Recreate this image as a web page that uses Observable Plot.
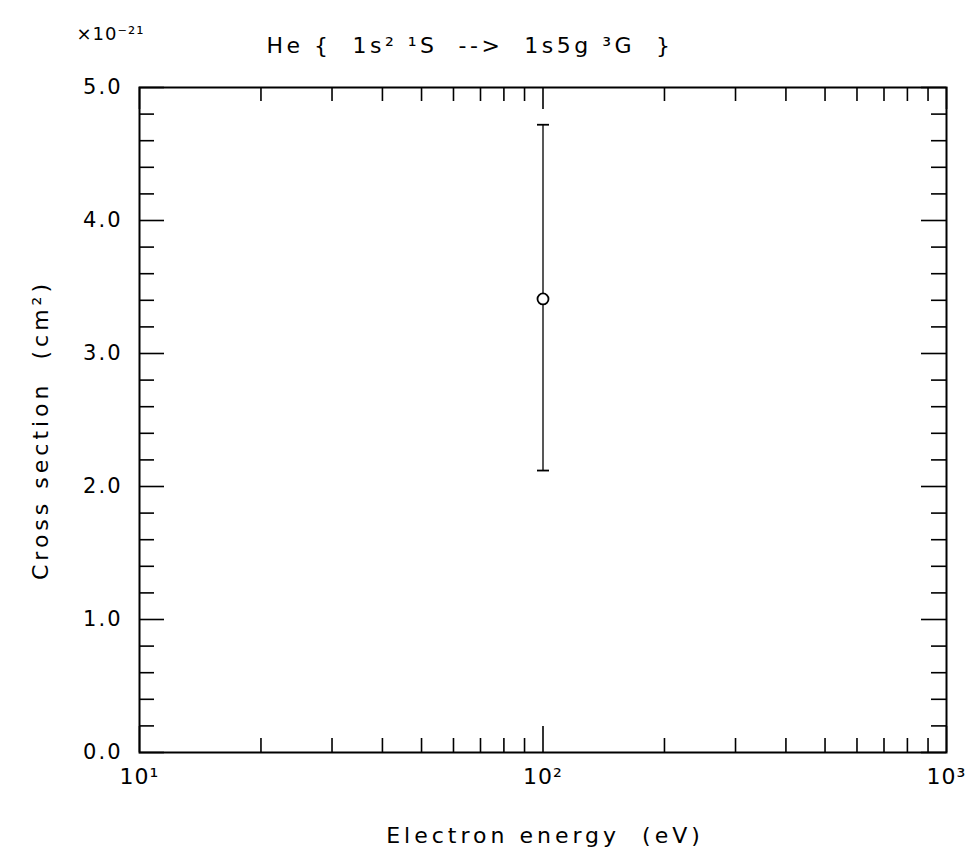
<!DOCTYPE html>
<html>
<head>
<meta charset="utf-8">
<script src="https://cdn.jsdelivr.net/npm/d3@7"></script>
<script src="https://cdn.jsdelivr.net/npm/@observablehq/plot@0.6"></script>
<style>
  html, body { margin: 0; padding: 0; background: #fff; }
  #chart svg { display: block; }
</style>
</head>
<body>
<div id="chart"></div>
<script>
// ---- data ----
const energy = [100];            // eV
const crossSection = [3.41];     // x1e-21 cm^2
const errLow = [2.12];
const errHigh = [4.72];

const xMajorTicks = [10, 100, 1000];
const xMajorLabels = ["10\u00b9", "10\u00b2", "10\u00b3"];
const xMinorTicks = [20, 30, 40, 50, 60, 70, 80, 90, 200, 300, 400, 500, 600, 700, 800, 900];
const yMajorTicks = [0, 1, 2, 3, 4, 5];
const yMajorLabels = ["0.0", "1.0", "2.0", "3.0", "4.0", "5.0"];
const yMinorTicks = [0.2,0.4,0.6,0.8,1.2,1.4,1.6,1.8,2.2,2.4,2.6,2.8,3.2,3.4,3.6,3.8,4.2,4.4,4.6,4.8];

const titleText = "He {  1s\u00b2 \u00b9S  -->  1s5g \u00b3G  }";
const scaleText = "\u00d710\u207b\u00b2\u00b9";
const xLabel = "Electron energy  (eV)";
const yLabel = "Cross section  (cm\u00b2)";

const data = energy.map((e, i) => ({energy: e, cs: crossSection[i], lo: errLow[i], hi: errHigh[i]}));

// ---- layout ----
const W = 970, H = 861;
const mL = 139, mR = 24, mT = 87, mB = 109;
const frameH = H - mT - mB, frameW = W - mL - mR;
const font = "DejaVu Sans";

const capSymbol = {
  draw(ctx, size) {
    const r = 6;
    ctx.moveTo(-r, 0); ctx.lineTo(r, 0);
  }
};

const txt = {fontFamily: font, fill: "black"};

const chart = Plot.plot({
  width: W, height: H,
  marginLeft: mL, marginRight: mR, marginTop: mT, marginBottom: mB,
  style: {fontFamily: font, background: "white", color: "black"},
  x: {type: "log", domain: [10, 1000], axis: null},
  y: {domain: [0, 5], axis: null},
  marks: [
    // inward ticks, bottom & top
    Plot.tickX(xMinorTicks, {insetTop: frameH - 14, strokeWidth: 1.6, stroke: "black"}),
    Plot.tickX(xMajorTicks, {insetTop: frameH - 26, strokeWidth: 1.6, stroke: "black"}),
    Plot.tickX(xMinorTicks, {insetBottom: frameH - 14, strokeWidth: 1.6, stroke: "black"}),
    Plot.tickX(xMajorTicks, {insetBottom: frameH - 22, strokeWidth: 1.6, stroke: "black"}),
    // inward ticks, left & right
    Plot.tickY(yMinorTicks, {insetRight: frameW - 15, strokeWidth: 1.6, stroke: "black"}),
    Plot.tickY(yMajorTicks, {insetRight: frameW - 25, strokeWidth: 1.6, stroke: "black"}),
    Plot.tickY(yMinorTicks, {insetLeft: frameW - 15, strokeWidth: 1.6, stroke: "black"}),
    Plot.tickY(yMajorTicks, {insetLeft: frameW - 25, strokeWidth: 1.6, stroke: "black"}),
    Plot.frame({stroke: "black", strokeWidth: 2}),
    // tick labels
    Plot.text(xMajorTicks, {x: d => d, frameAnchor: "bottom", text: (d, i) => xMajorLabels[i],
      dy: 31, fontSize: 22, ...txt}),
    Plot.text(yMajorTicks, {y: d => d, frameAnchor: "left", text: (d, i) => yMajorLabels[i],
      textAnchor: "end", dx: -17, fontSize: 21, ...txt}),
    // error bar
    Plot.ruleX(data, {x: "energy", y1: "lo", y2: "hi", stroke: "#111", strokeWidth: 1.4}),
    Plot.dot(data, {x: "energy", y: "lo", symbol: capSymbol, stroke: "black", strokeWidth: 1.8, r: 6}),
    Plot.dot(data, {x: "energy", y: "hi", symbol: capSymbol, stroke: "black", strokeWidth: 1.8, r: 6}),
    Plot.dot(data, {x: "energy", y: "cs", r: 5.5, stroke: "black", fill: "white", strokeWidth: 1.8}),
    // titles & labels
    Plot.text([titleText], {frameAnchor: "top", dx: -73, dy: -50, fontSize: 22, ...txt}),
    Plot.text([scaleText], {frameAnchor: "top-left", textAnchor: "start", dx: -63, dy: -60, fontSize: 18, ...txt}),
    Plot.text([xLabel], {frameAnchor: "bottom", dx: 2, dy: 90, fontSize: 22, ...txt}),
    Plot.text([yLabel], {frameAnchor: "left", textAnchor: "middle", rotate: -90, dx: -99, dy: 10, fontSize: 22, ...txt})
  ]
});

// wider, plotter-like letter spacing
const spacing = new Map([
  [titleText, 3.5], [xLabel, 4], [yLabel, 4], [scaleText, 1]
]);
yMajorLabels.forEach(s => spacing.set(s, 2));
xMajorLabels.forEach(s => spacing.set(s, 1));
d3.select(chart).selectAll("text").each(function() {
  const s = spacing.get(this.textContent);
  if (s != null) this.style.letterSpacing = s + "px";
});

document.getElementById("chart").appendChild(chart);
</script>
</body>
</html>
